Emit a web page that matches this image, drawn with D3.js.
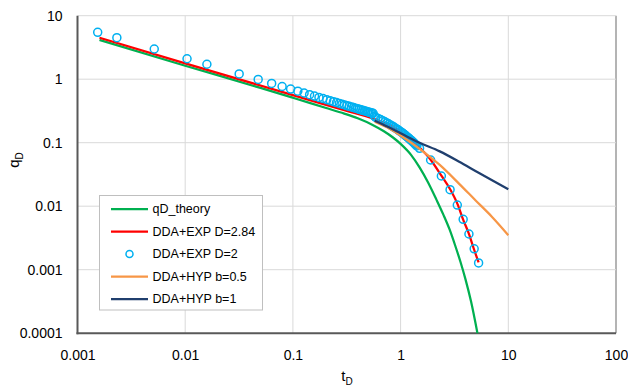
<!DOCTYPE html>
<html>
<head>
<meta charset="utf-8">
<script src="https://cdn.jsdelivr.net/npm/d3@7"></script>
<style>
  html, body { margin: 0; padding: 0; background: #fff; }
  svg { display: block; font-family: "Liberation Sans", Arial, sans-serif; }
</style>
</head>
<body>
<div id="chart"></div>
<script>
/* ── data ──────────────────────────────────────────────────────────────── */

// qD_theory
const tTheory = [0.0016, 0.01, 0.05, 0.1, 0.2, 0.3, 0.4, 0.55, 0.7, 0.85, 1.0, 1.25, 1.5, 1.8, 2.15, 2.5, 2.85, 3.2, 3.6, 4.0, 4.5, 5.2];
const qTheory = [4.15, 1.63, 0.73, 0.51, 0.355, 0.2875, 0.242, 0.1905, 0.1515, 0.1207, 0.0958, 0.0644, 0.0408, 0.0236, 0.0127, 0.0073, 0.0043, 0.00245, 0.00132, 0.00071, 0.00032, 0.000095];

// DDA+EXP D=2.84
const tExp284 = [0.0016, 0.01, 0.1, 0.3, 0.57, 1.0, 1.5, 1.9, 2.4, 2.9, 3.4, 3.8, 4.3, 4.8, 5.3];
const qExp284 = [4.5, 1.78, 0.56, 0.325, 0.236, 0.148, 0.084, 0.054, 0.030, 0.0182, 0.0105, 0.0062, 0.0037, 0.0021, 0.0013];

// DDA+EXP D=2 (markers)
const tExp2 = [
  0.00154, 0.00232, 0.00516, 0.0104, 0.0159,
  0.0317, 0.0476, 0.0635, 0.0794, 0.0952, 0.1111, 0.127, 0.1429, 0.1587, 0.1746,
  0.1905, 0.2063, 0.2222, 0.2381, 0.254, 0.2698, 0.2857, 0.3016, 0.3175, 0.3333,
  0.3492, 0.3651, 0.381, 0.3968, 0.4127, 0.4286, 0.4444, 0.4603, 0.4762, 0.4921,
  0.5079, 0.5238, 0.5397, 0.5556, 0.5714,
  0.587, 0.619, 0.651, 0.683, 0.714, 0.746, 0.778, 0.81, 0.841, 0.873,
  0.905, 0.937, 0.968, 1.0, 1.032, 1.063, 1.095, 1.127, 1.159, 1.19,
  1.222, 1.254, 1.286, 1.317, 1.349, 1.381, 1.413,
  1.5, 1.9, 2.39, 2.88, 3.36, 3.81, 4.31, 4.82, 5.3
];
const qExp2 = [
  5.48, 4.5, 2.99, 2.1, 1.72,
  1.21, 0.99, 0.857, 0.767, 0.7, 0.648, 0.606, 0.571, 0.542, 0.517,
  0.495, 0.476, 0.458, 0.443, 0.429, 0.416, 0.404, 0.393, 0.383, 0.374,
  0.366, 0.357, 0.35, 0.343, 0.336, 0.33, 0.324, 0.318, 0.313, 0.308,
  0.303, 0.298, 0.294, 0.29, 0.262,
  0.25, 0.24, 0.231, 0.222, 0.213, 0.205, 0.197, 0.189, 0.182, 0.175,
  0.168, 0.162, 0.155, 0.149, 0.144, 0.138, 0.133, 0.127, 0.122, 0.118,
  0.113, 0.109, 0.105, 0.101, 0.097, 0.093, 0.089,
  0.0817, 0.0534, 0.0299, 0.0182, 0.0104, 0.00622, 0.00365, 0.00213, 0.00128
];

// DDA+HYP b=0.5
const tHyp05 = [0.575, 0.75, 1.0, 1.5, 2.31, 3.5, 5.0, 7.0, 10.0];
const qHyp05 = [0.215, 0.175, 0.13, 0.08, 0.0446, 0.0225, 0.0122, 0.0069, 0.0035];

// DDA+HYP b=1
const tHyp1 = [0.575, 0.75, 1.0, 1.5, 2.31, 3.5, 5.0, 7.0, 10.0];
const qHyp1 = [0.222, 0.18, 0.141, 0.1, 0.073, 0.0502, 0.0356, 0.0258, 0.0185];

const xTicks = [0.001, 0.01, 0.1, 1, 10, 100];
const xTickLabels = ['0.001', '0.01', '0.1', '1', '10', '100'];
const yTicks = [0.0001, 0.001, 0.01, 0.1, 1, 10];
const yTickLabels = ['0.0001', '0.001', '0.01', '0.1', '1', '10'];

/* ── layout ────────────────────────────────────────────────────────────── */
const W = 628, H = 387;
const plot = { left: 77.5, right: 616, top: 15.7, bottom: 333.2 };

const x = d3.scaleLog().domain([0.001, 100]).range([plot.left, plot.right]);
const y = d3.scaleLog().domain([0.0001, 10]).range([plot.bottom, plot.top]);

const svg = d3.select('#chart').append('svg')
  .attr('width', W).attr('height', H)
  .attr('viewBox', `0 0 ${W} ${H}`);

// gridlines
const grid = svg.append('g');
grid.selectAll('line.vx')
  .data(xTicks.slice(1))
  .join('line')
  .attr('x1', d => x(d)).attr('x2', d => x(d))
  .attr('y1', plot.top).attr('y2', plot.bottom)
  .attr('stroke', (d, i, a) => i === a.length - 1 ? '#b4b4b4' : '#d9d9d9')
  .attr('stroke-width', (d, i, a) => i === a.length - 1 ? 2 : 1);
grid.selectAll('line.hy')
  .data(yTicks.slice(1))
  .join('line')
  .attr('x1', plot.left).attr('x2', plot.right)
  .attr('y1', d => y(d)).attr('y2', d => y(d))
  .attr('stroke', '#d9d9d9')
  .attr('stroke-width', 1);

// axes (labels only, lines drawn separately)
const xAxis = svg.append('g')
  .attr('transform', `translate(0,${plot.bottom})`)
  .call(d3.axisBottom(x).tickValues(xTicks).tickSize(0).tickPadding(17)
    .tickFormat((d, i) => xTickLabels[i]));
const yAxis = svg.append('g')
  .attr('transform', `translate(${plot.left},0)`)
  .call(d3.axisLeft(y).tickValues(yTicks).tickSize(0).tickPadding(15)
    .tickFormat((d, i) => yTickLabels[i]));
[xAxis, yAxis].forEach(a => {
  a.select('.domain').remove();
  a.selectAll('text')
    .style('font-family', '"Liberation Sans", Arial, sans-serif')
    .style('font-size', '14px')
    .style('fill', '#000');
});

svg.append('line')
  .attr('x1', plot.left).attr('x2', plot.left)
  .attr('y1', plot.top).attr('y2', plot.bottom + 1)
  .attr('stroke', '#595959').attr('stroke-width', 2);
svg.append('line')
  .attr('x1', plot.left - 1).attr('x2', plot.right)
  .attr('y1', plot.bottom).attr('y2', plot.bottom)
  .attr('stroke', '#595959').attr('stroke-width', 2);

/* ── series ────────────────────────────────────────────────────────────── */
svg.append('clipPath').attr('id', 'plot-clip')
  .append('rect')
  .attr('x', plot.left).attr('y', plot.top)
  .attr('width', plot.right - plot.left).attr('height', plot.bottom - plot.top);

const line = d3.line().x(d => x(d[0])).y(d => y(d[1])).curve(d3.curveMonotoneX);
const zip = (a, b) => a.map((v, i) => [v, b[i]]);

const series = svg.append('g').attr('clip-path', 'url(#plot-clip)');

series.append('path')
  .attr('d', line(zip(tTheory, qTheory)))
  .attr('fill', 'none').attr('stroke', '#00b050').attr('stroke-width', 2.25);

series.append('path')
  .attr('d', line(zip(tExp284, qExp284)))
  .attr('fill', 'none').attr('stroke', '#ff0000').attr('stroke-width', 2.25);

series.append('g').selectAll('circle')
  .data(zip(tExp2, qExp2))
  .join('circle')
  .attr('cx', d => x(d[0]))
  .attr('cy', d => y(d[1]))
  .attr('r', 4)
  .attr('fill', 'none')
  .attr('stroke', '#00b0f0')
  .attr('stroke-width', 1.5);

series.append('path')
  .attr('d', line(zip(tHyp05, qHyp05)))
  .attr('fill', 'none').attr('stroke', '#f79646').attr('stroke-width', 2.25);

series.append('path')
  .attr('d', line(zip(tHyp1, qHyp1)))
  .attr('fill', 'none').attr('stroke', '#203f6e').attr('stroke-width', 2.25);

/* ── axis titles ───────────────────────────────────────────────────────── */
const yt = svg.append('text')
  .attr('transform', 'translate(19,160) rotate(-90)')
  .attr('text-anchor', 'middle')
  .style('font-size', '15px');
yt.append('tspan').text('q');
yt.append('tspan').attr('dy', 4).style('font-size', '10px').text('D');

const xt = svg.append('text')
  .attr('x', 347).attr('y', 381)
  .attr('text-anchor', 'middle')
  .style('font-size', '15px');
xt.append('tspan').text('t');
xt.append('tspan').attr('dy', 4).style('font-size', '10px').text('D');

/* ── legend ────────────────────────────────────────────────────────────── */
const legendItems = [
  { label: 'qD_theory',        color: '#00b050', type: 'line' },
  { label: 'DDA+EXP D=2.84',   color: '#ff0000', type: 'line' },
  { label: 'DDA+EXP D=2',      color: '#00b0f0', type: 'marker' },
  { label: 'DDA+HYP b=0.5',    color: '#f79646', type: 'line' },
  { label: 'DDA+HYP b=1',      color: '#203f6e', type: 'line' },
];

const legend = svg.append('g');
legend.append('rect')
  .attr('x', 99.5).attr('y', 195.5)
  .attr('width', 163).attr('height', 114.5)
  .attr('fill', '#fff').attr('stroke', '#bfbfbf');

const li = legend.selectAll('g.item')
  .data(legendItems)
  .join('g')
  .attr('transform', (d, i) => `translate(0,${209 + i * 22.5})`);

li.filter(d => d.type === 'line').append('line')
  .attr('x1', 111).attr('x2', 148)
  .attr('stroke', d => d.color).attr('stroke-width', 2.25);
li.filter(d => d.type === 'marker').append('circle')
  .attr('cx', 129.5).attr('r', 3.5)
  .attr('fill', 'none').attr('stroke', d => d.color).attr('stroke-width', 1.5);
li.append('text')
  .attr('x', 152.5).attr('dy', '0.35em')
  .style('font-size', '12.5px')
  .text(d => d.label);
</script>
</body>
</html>
